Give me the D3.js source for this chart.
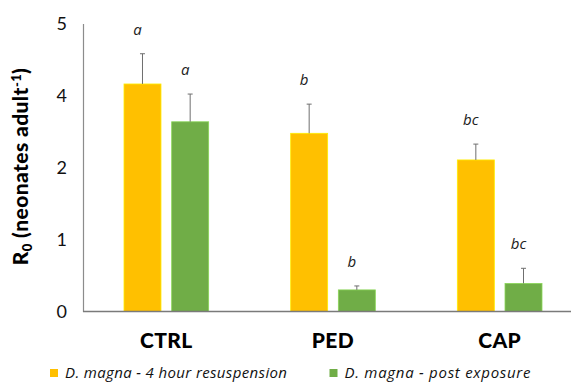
<!DOCTYPE html>
<html><head><meta charset="utf-8">
<script src="https://cdn.jsdelivr.net/npm/d3@7"></script>
<style>body{margin:0;background:#fff}svg{display:block}</style>
</head><body>
<svg id="c" width="571" height="383"></svg>
<script>
const categories = ["CTRL", "PED", "CAP"];
const seriesNames = ["D. magna - 4 hour resuspension", "D. magna - post exposure"];
const resuspension = [4.16, 2.95, 2.21];
const resuspensionErr = [0.42, 0.81, 0.44];
const postExposure = [3.27, 0.30, 0.39];
const postExposureErr = [0.75, 0.055, 0.21];
const resuspensionLetters = ["a", "b", "bc"];
const postExposureLetters = ["a", "b", "bc"];
const yTickLabels = [0, 1, 2, 4, 5];
const colors = ["#FFC000", "#70AD47"];

(function () {
const series = [
  {name: seriesNames[0], values: resuspension, err: resuspensionErr, letters: resuspensionLetters, color: colors[0]},
  {name: seriesNames[1], values: postExposure, err: postExposureErr, letters: postExposureLetters, color: colors[1]}
];

const svg = d3.select("#c");
const mLeft = 83, mRight = 583, mTop = 23.5, mBottom = 311.5;
const x0 = d3.scaleBand().domain(categories).range([mLeft, mRight]).padding(0);
const x1 = d3.scaleBand().domain([0, 1]).range([0, x0.bandwidth()]).paddingInner(0.224).paddingOuter(0.86);
const step = (mBottom - mTop) / (yTickLabels.length - 1);
const y = d3.scaleLinear().domain(yTickLabels).range(yTickLabels.map((d, i) => mBottom - i * step));

// y axis
const yAxis = d3.axisLeft(y).tickValues(yTickLabels).tickSize(0).tickPadding(16).tickFormat(d3.format("d"));
const gy = svg.append("g").attr("transform", `translate(${mLeft},0)`).call(yAxis);
gy.select(".domain").attr("stroke", "#8c8c8c").attr("stroke-width", 1.2);
gy.selectAll("text").attr("font-family", "Lato, sans-serif").attr("font-size", 18).attr("fill", "#111");

// bars + error bars
series.forEach((s, si) => {
  const g = svg.append("g");
  categories.forEach((c, ci) => {
    const bx = x0(c) + x1(si);
    const bw = x1.bandwidth();
    const v = s.values[ci];
    g.append("rect").attr("x", bx).attr("y", y(v)).attr("width", bw).attr("height", y(0) - y(v))
      .attr("fill", s.color).attr("stroke", d3.color(s.color).brighter(0.6)).attr("stroke-width", 0.8);
    const cx = bx + bw / 2;
    const et = y(v + s.err[ci]);
    g.append("line").attr("x1", cx).attr("x2", cx).attr("y1", y(v)).attr("y2", et).attr("stroke", "#6f6f6f").attr("stroke-width", 1);
    g.append("line").attr("x1", cx - 2.5).attr("x2", cx + 2.5).attr("y1", et).attr("y2", et).attr("stroke", "#6f6f6f").attr("stroke-width", 1);
  });
});

// significance letters
series.forEach((s, si) => {
  categories.forEach((c, ci) => {
    const cx = x0(c) + x1(si) + x1.bandwidth() / 2;
    const et = y(s.values[ci] + s.err[ci]);
    svg.append("text").attr("x", cx - 5).attr("y", et - 19)
      .attr("text-anchor", "middle").attr("font-family", "'Open Sans', sans-serif").attr("font-style", "italic")
      .attr("font-size", 15).attr("fill", "#222").text(s.letters[ci]);
  });
});

// baseline
svg.append("line").attr("x1", mLeft).attr("x2", 571).attr("y1", y(0)).attr("y2", y(0)).attr("stroke", "#7a7a7a").attr("stroke-width", 1.5);

// category labels
const xAxis = d3.axisBottom(x0).tickSize(0).tickPadding(22);
const gx = svg.append("g").attr("transform", `translate(0,${mBottom})`).call(xAxis);
gx.select(".domain").remove();
gx.selectAll("text").attr("font-family", "Lato, sans-serif").attr("font-weight", "900").attr("font-size", 21)
  .attr("letter-spacing", 0.4).attr("fill", "#000");

// y title
const yt = svg.append("text").attr("transform", `translate(28,${(60 + 273) / 2}) rotate(-90)`)
  .attr("text-anchor", "middle").attr("font-family", "Lato, sans-serif").attr("font-weight", "900").attr("font-size", 21)
  .attr("letter-spacing", 0.4).attr("fill", "#000");
yt.append("tspan").text("R");
yt.append("tspan").attr("font-size", 13).attr("dy", 4).text("0");
yt.append("tspan").attr("dy", -4).text(" (neonates adult");
yt.append("tspan").attr("font-size", 13).attr("dy", -7).text("-1");
yt.append("tspan").attr("dy", 7).text(")");

// legend
const legX = [50, 329.5];
const legLen = [222, 186];
series.forEach((s, si) => {
  svg.append("rect").attr("x", legX[si]).attr("y", 369).attr("width", 8).attr("height", 8).attr("fill", s.color);
  svg.append("text").attr("x", legX[si] + 15).attr("y", 377.5).attr("font-family", "'Open Sans', sans-serif")
    .attr("font-style", "italic").attr("font-size", 15).attr("textLength", legLen[si]).attr("lengthAdjust", "spacing")
    .attr("fill", "#111").text(s.name);
});
})();
</script>
</body></html>
